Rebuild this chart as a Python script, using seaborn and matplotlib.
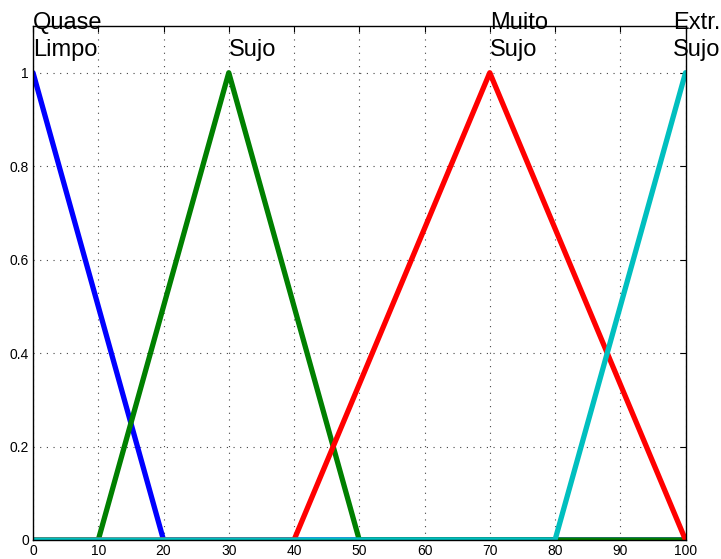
import numpy as np
import pandas as pd
import matplotlib
matplotlib.use("Agg")
import matplotlib.pyplot as plt
import seaborn as sns

# Triangular membership functions over the 0-100 universe
names = ["Quase\nLimpo", "Sujo", "Muito\nSujo", "Extr.\nSujo"]
left_feet = [0, 10, 40, 80]
peaks = [0, 30, 70, 100]
right_feet = [20, 50, 100, 100]
colors = ["#0000ff", "#008000", "#ff0000", "#00bfbf"]
x_ticks = [0, 10, 20, 30, 40, 50, 60, 70, 80, 90, 100]
y_ticks = [0, 0.2, 0.4, 0.6, 0.8, 1.0]
y_tick_labels = ["0", "0.2", "0.4", "0.6", "0.8", "1"]

x = np.linspace(0, 100, 1001)


def trimf(v, a, b, c):
    left = np.where(b > a, (v - a) / max(b - a, 1e-12), (v >= b).astype(float))
    right = np.where(c > b, (c - v) / max(c - b, 1e-12), (v <= b).astype(float))
    return np.clip(np.minimum(left, right), 0, 1)


frames = []
for name, a, b, c in zip(names, left_feet, peaks, right_feet):
    frames.append(pd.DataFrame({"x": x, "mu": trimf(x, a, b, c), "set": name}))
df = pd.concat(frames, ignore_index=True)

sns.set_style("white")
plt.rcParams["font.family"] = ["Liberation Sans", "DejaVu Sans"]
plt.rcParams["text.color"] = "black"

fig = plt.figure(figsize=(7.21, 5.59), dpi=100)
ax = fig.add_axes([0.0458, 0.034, 0.905, 0.9195])

sns.lineplot(data=df, x="x", y="mu", hue="set", palette=colors,
             hue_order=names, linewidth=3.8, legend=False, ax=ax,
             estimator=None, sort=False)

ax.set_xlim(0, 100)
ax.set_ylim(0, 1.1)
ax.set_xticks(x_ticks)
ax.set_xticklabels([str(t) for t in x_ticks])
ax.set_yticks(y_ticks)
ax.set_yticklabels(y_tick_labels)
ax.set_xlabel("")
ax.set_ylabel("")
ax.grid(True, color="#444444", linestyle=(0, (1, 5)), linewidth=0.8)
ax.tick_params(direction="in", length=4, labelsize=10, top=True, right=True,
               colors="black", pad=3)
for s in ax.spines.values():
    s.set_color("black")
    s.set_linewidth(1.0)
    s.set_visible(True)

for name, b in zip(names, peaks):
    xpos = b - 1.9 if b >= 100 else b
    ax.text(xpos, 1.026, name, ha="left", va="bottom", fontsize=17,
            linespacing=1.25, color="black", clip_on=False)

fig.savefig("out.png", dpi=100)
